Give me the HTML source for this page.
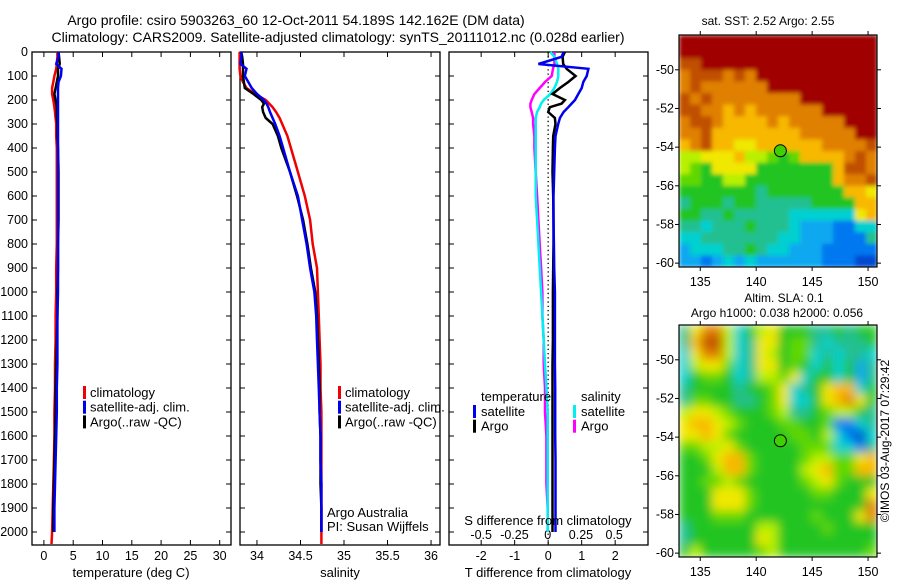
<!DOCTYPE html>
<html><head><meta charset="utf-8">
<style>
html,body{margin:0;padding:0;background:#fff;}
svg{display:block;font-family:"Liberation Sans",sans-serif;}
</style></head>
<body>
<svg id="fig" width="900" height="580" viewBox="0 0 900 580" xmlns="http://www.w3.org/2000/svg">
<defs>
<filter id="blurSla" x="0" y="0" width="1" height="1"><feGaussianBlur stdDeviation="5" edgeMode="duplicate"/></filter>
<filter id="blurSst" x="0" y="0" width="1" height="1"><feGaussianBlur stdDeviation="2" edgeMode="duplicate"/></filter>
<clipPath id="clipM1"><rect x="679" y="35" width="198" height="232"/></clipPath>
<clipPath id="clipM2"><rect x="679" y="325" width="198" height="232"/></clipPath>
</defs>
<text x="296" y="25" font-size="14" text-anchor="middle">Argo profile: csiro 5903263_60 12-Oct-2011 54.189S 142.162E (DM data)</text>
<text x="338" y="42" font-size="14" text-anchor="middle">Climatology: CARS2009. Satellite-adjusted climatology: synTS_20111012.nc (0.028d earlier)</text>
<g id="g1"></g>
<g id="g2"></g>
<g id="g3"></g>
<g id="m1"></g>
<g id="m2"></g>
<text x="768" y="25" font-size="12" text-anchor="middle">sat. SST: 2.52 Argo: 2.55</text>
<text x="784" y="302" font-size="12" text-anchor="middle">Altim. SLA: 0.1</text>
<text x="777" y="317" font-size="12" text-anchor="middle">Argo h1000: 0.038 h2000: 0.056</text>
<text x="0" y="0" font-size="12" transform="translate(889,441) rotate(-90)" text-anchor="middle">©IMOS 03-Aug-2017 07:29:42</text>
</svg>
<script>
const depths=[0,20,50,70,100,125,150,175,200,215,230,250,275,300,350,400,500,600,700,800,900,1000,1100,1200,1300,1400,1500,1600,1700,1800,1900,2000,2050];
const tempClim=[2.3,2.3,2.2,2.1,1.8,1.6,1.4,1.4,1.6,1.7,1.8,1.9,2.0,2.1,2.1,2.2,2.2,2.2,2.2,2.2,2.1,2.1,2.0,2.0,1.9,1.9,1.8,1.8,1.7,1.6,1.5,1.4,1.3];
const tempSat=[2.5,2.5,2.1,3.0,2.9,2.5,2.4,2.4,2.4,2.4,2.4,2.4,2.4,2.4,2.4,2.4,2.4,2.4,2.4,2.4,2.4,2.4,2.3,2.3,2.3,2.2,2.2,2.1,2.0,1.9,1.8,1.8,null];
const tempArgo=[2.5,2.6,2.7,2.4,2.4,2.2,2.0,1.8,2.0,2.1,2.2,2.2,2.2,2.3,2.3,2.4,2.5,2.5,2.5,2.4,2.4,2.3,2.3,2.2,2.1,2.0,2.0,1.9,1.8,1.7,1.6,1.6,null];
const salClim=[33.80,33.80,33.80,33.80,33.81,33.84,33.88,33.98,34.10,34.14,34.18,34.22,34.26,34.29,34.35,34.39,34.47,34.55,34.61,34.64,34.69,34.70,34.71,34.72,34.73,34.73,34.74,34.74,34.74,34.74,34.74,34.74,34.74];
const salSat=[33.82,33.82,33.81,33.88,33.86,33.90,33.94,34.00,34.08,34.11,34.13,34.15,34.18,34.21,34.26,34.30,34.38,34.47,34.52,34.57,34.61,34.66,34.68,34.69,34.70,34.71,34.72,34.73,34.73,34.74,34.74,34.74,null];
const salArgo=[33.82,33.83,33.84,33.84,33.84,33.85,33.86,33.96,34.05,34.08,34.06,34.07,34.10,34.18,34.24,34.28,34.38,34.46,34.53,34.58,34.62,34.67,34.69,34.70,34.71,34.72,34.72,34.73,34.73,34.73,34.74,34.74,null];
const dTsat=[0.46,0.40,-0.29,1.2,1.15,1.05,1.0,0.9,0.8,0.7,0.6,0.46,0.35,0.3,0.22,0.2,0.18,0.16,0.16,0.17,0.18,0.2,0.2,0.2,0.2,0.21,0.21,0.21,0.22,0.22,0.22,0.22,null];
const dTargo=[0.5,0.43,0.45,0.55,0.82,0.6,0.35,0.13,0.5,0.4,0.05,0.0,0.2,0.22,0.15,0.14,0.13,0.15,0.16,0.16,0.15,0.14,0.14,0.14,0.13,0.13,0.13,0.13,0.13,0.13,0.13,0.13,null];
const dSsat=[0.02,0.05,0.07,0.08,0.08,0.07,0.05,0.02,-0.03,-0.05,-0.06,-0.08,-0.09,-0.09,-0.09,-0.09,-0.09,-0.09,-0.08,-0.07,-0.06,-0.05,-0.04,-0.03,-0.02,-0.01,0,0,0,0,0,0,null];
const dSargo=[0.05,0.05,0.05,0.04,0.03,-0.02,-0.06,-0.1,-0.12,-0.13,-0.13,-0.12,-0.11,-0.11,-0.1,-0.1,-0.09,-0.08,-0.07,-0.06,-0.05,-0.04,-0.04,-0.03,-0.03,-0.02,-0.02,-0.01,-0.01,-0.01,0,0,null];
const depthTicks=[0,100,200,300,400,500,600,700,800,900,1000,1100,1200,1300,1400,1500,1600,1700,1800,1900,2000];
const tempTicks=[0,5,10,15,20,25,30];
const salTicks=[34,34.5,35,35.5,36];
const tDiffTicks=[-2,-1,0,1,2];
const sDiffTicks=[-0.5,-0.25,0,0.25,0.5];
const lonTicks=[135,140,145,150];
const latTicks=[-50,-52,-54,-56,-58,-60];
const palette=["#0048d0","#0078f0","#10a8f0","#00d0d0","#20c090","#20c420","#60d800","#b8f000","#f0e800","#f8b800","#e08000","#c05000","#a00000"];
const sstGrid=[
"cccccccccccccccccc","cccccccccccccccccc","bbcccccccccccccccc","abbbabaccccccccccc","abaaaaaacccccccccc",
"babaaaaaaaaccccccc","bbaa9a9aaaaaaccccc","abba9999a9aaaaaccc","aab99999999aaaaacc","9ab9988999999aaaab",
"778889776569999aba","765888855555559bba","665577555555559aab","555555545555555998","455545544444555599",
"554454444433333389","443444544432221133","334444444332221114","233344543322211111","221232322222211100"];
const slaGrid=[
"48aa73578555445455","49bb73488566434445","38aa73487566343443","378863488565353524","356653477683553524",
"455554556834589935","466554456833589a85","788765556744567754","899876555665561134","889865555566573103",
"667786555556663314","556899655556776689","555799655557896699","556676555556786555","555888655555665558",
"55588865555555555a","55566655555565558a","455555577555565555","455555587555555555","575555567555555556"];
const argoLon=142.162, argoLat=-54.189;

const NS="http://www.w3.org/2000/svg";
function mk(p,tag,at,name){const e=document.createElementNS(NS,tag);for(const k in at)e.setAttribute(k,at[k]);


p.appendChild(e);return e;}
const top0=52,bot=545;
const yD=d=>top0+d*0.24;
function panel(g,x0,x1,xmin,xmax,name){
  const sx=v=>x0+(v-xmin)/(xmax-xmin)*(x1-x0);
  mk(g,'rect',{x:x0,y:top0,width:x1-x0,height:bot-top0,fill:'none',stroke:'#000','stroke-width':1.3},name+'-frame');
  depthTicks.forEach(d=>{const y=yD(d);
    mk(g,'line',{x1:x0,x2:x0+5,y1:y,y2:y,stroke:'#000'},name+'-ytick');
    mk(g,'line',{x1:x1-5,x2:x1,y1:y,y2:y,stroke:'#000'},name+'-ytick');});
  return sx;
}
function line(g,sx,vals,color,name,w){
  let pts=[];depths.forEach((d,i)=>{if(vals[i]!==null)pts.push(sx(vals[i]).toFixed(1)+','+yD(d).toFixed(1));});
  mk(g,'polyline',{points:pts.join(' '),fill:'none',stroke:color,'stroke-width':w||2.5,'stroke-linejoin':'miter'},name);
}
function xticks(g,sx,ticks,name,ly){
  ticks.forEach(t=>{const x=sx(t);
    mk(g,'line',{x1:x,x2:x,y1:bot,y2:bot-5,stroke:'#000'},name+'-tick');
    mk(g,'line',{x1:x,x2:x,y1:top0,y2:top0+5,stroke:'#000'},name+'-tick');
    const t1=mk(g,'text',{x:x,y:ly,'font-size':12.5,'text-anchor':'middle'},name+'-label');t1.textContent=String(t);});
}
function legend(g,x,items){
  items.forEach((it,i)=>{const y=397+i*14.7;
    if(it[1])mk(g,'rect',{x:x,y:y-11,width:3,height:13,fill:it[1]},'legend-swatch-'+it[2]);
    const t=mk(g,'text',{x:x+7,y:y,'font-size':13},'legend-entry-'+it[2]);t.textContent=it[0];});
}
// Panel 1
const g1=document.getElementById('g1');
const sxT=panel(g1,32,231,-2.03,31.93,'temperature-panel');
depthTicks.forEach(d=>{const t=mk(g1,'text',{x:28,y:yD(d)+4,'font-size':12.5,'text-anchor':'end'},'depth-tick-label');t.textContent=String(d);});
xticks(g1,sxT,tempTicks,'temperature-axis',560);
line(g1,sxT,tempClim,'#f00000','temp-climatology-line');
line(g1,sxT,tempArgo,'#000','temp-argo-line');
line(g1,sxT,tempSat,'#0000f0','temp-satellite-line');
legend(g1,83,[['climatology','#f00000','clim'],['satellite-adj. clim.','#0000f0','sat'],['Argo(..raw -QC)','#000','argo']]);
{const t=mk(g1,'text',{x:131,y:577,'font-size':13,'text-anchor':'middle'},'temperature-axis-title');t.textContent='temperature (deg C)';}
// Panel 2
const g2=document.getElementById('g2');
const sxS=panel(g2,240,440,33.805,36.103,'salinity-panel');
xticks(g2,sxS,salTicks,'salinity-axis',560);
line(g2,sxS,salClim,'#f00000','sal-climatology-line');
line(g2,sxS,salArgo,'#000','sal-argo-line');
line(g2,sxS,salSat,'#0000f0','sal-satellite-line');
legend(g2,338,[['climatology','#f00000','sal-clim'],['satellite-adj. clim.','#0000f0','sal-sat'],['Argo(..raw -QC)','#000','sal-argo']]);
{let t=mk(g2,'text',{x:327,y:517,'font-size':13},'pi-credit-1');t.textContent='Argo Australia';
t=mk(g2,'text',{x:327,y:531,'font-size':13},'pi-credit-2');t.textContent='PI: Susan Wijffels';
t=mk(g2,'text',{x:340,y:577,'font-size':13,'text-anchor':'middle'},'salinity-axis-title');t.textContent='salinity';}
// Panel 3
const g3=document.getElementById('g3');
const sxD=panel(g3,449,648,-2.96,2.98,'difference-panel');
const sxSD=v=>547.7+v*133;
mk(g3,'line',{x1:sxD(0),x2:sxD(0),y1:top0,y2:bot,stroke:'#000','stroke-dasharray':'1.3,3','stroke-width':1.3},'zero-line');
xticks(g3,sxD,tDiffTicks,'t-diff-axis',560);
sDiffTicks.forEach(t=>{const e=mk(g3,'text',{x:sxSD(t),y:539,'font-size':12.5,'text-anchor':'middle'},'s-diff-tick-label');e.textContent=String(t);});
line(g3,sxSD,dSargo,'#ff00ff','s-diff-argo-line');
line(g3,sxSD,dSsat,'#00f0f0','s-diff-sat-line');
line(g3,sxD,dTargo,'#000','t-diff-argo-line');
line(g3,sxD,dTsat,'#0000f0','t-diff-sat-line');
{const w=g3;let t=mk(w,'text',{x:481,y:401,'font-size':13},'legend-temperature-heading');t.textContent='temperature';
t=mk(w,'text',{x:581,y:401,'font-size':13},'legend-salinity-heading');t.textContent='salinity';}
(function(){const items=[[473,'satellite','#0000f0','tsat'],[473,'Argo','#000','targo'],[573,'satellite','#00f0f0','ssat'],[573,'Argo','#ff00ff','sargo']];
items.forEach((it,i)=>{const y=416+(i%2)*14.7;
mk(g3,'rect',{x:it[0],y:y-11,width:3,height:13,fill:it[2]},'legend-swatch-'+it[3]);
const t=mk(g3,'text',{x:it[0]+8,y:y,'font-size':13},'legend-entry-'+it[3]);t.textContent=it[1];});})();
{let t=mk(g3,'text',{x:548,y:525,'font-size':13,'text-anchor':'middle'},'s-diff-axis-title');t.textContent='S difference from climatology';
t=mk(g3,'text',{x:548,y:577,'font-size':13,'text-anchor':'middle'},'t-diff-axis-title');t.textContent='T difference from climatology';}
// Maps
function map(g,grid,top,name,filt,clip){
  const x0=679,x1=877,y1=top+232,lon0=133.1,lon1=150.8,lat0=-48.2,lat1=-60.2;
  const sx=v=>x0+(v-lon0)/(lon1-lon0)*(x1-x0), sy=v=>top+(v-lat0)/(lat1-lat0)*(y1-top);
  const rows=grid.length,cols=grid[0].length,cw=(x1-x0)/cols,ch=(y1-top)/rows;
  const cg=mk(g,'g',{'clip-path':'url(#'+clip+')'},name+'-field-clip');
  const fg=mk(cg,'g',{filter:'url(#'+filt+')'},name+'-field');
  grid.forEach((r,i)=>{for(let j=0;j<cols;j++){const k=parseInt(r[j],16);
    mk(fg,'rect',{x:(x0+j*cw).toFixed(2),y:(top+i*ch).toFixed(2),width:(cw+0.6).toFixed(2),height:(ch+0.6).toFixed(2),fill:palette[k]},name+'-cell');}});
  mk(g,'rect',{x:x0,y:top,width:x1-x0,height:y1-top,fill:'none',stroke:'#000','stroke-width':1.2},name+'-frame');
  lonTicks.forEach(v=>{const x=sx(v);
    mk(g,'line',{x1:x,x2:x,y1:top-4,y2:top,stroke:'#000'},name+'-xtick');
    mk(g,'line',{x1:x,x2:x,y1:y1,y2:y1+4,stroke:'#000'},name+'-xtick');
    const t=mk(g,'text',{x:x,y:y1+19,'font-size':12.5,'text-anchor':'middle'},name+'-lon-label');t.textContent=String(v);});
  latTicks.forEach(v=>{const y=sy(v);
    mk(g,'line',{x1:x0-4,x2:x0,y1:y,y2:y,stroke:'#000'},name+'-ytick');
    mk(g,'line',{x1:x1,x2:x1+4,y1:y,y2:y,stroke:'#000'},name+'-ytick');
    const t=mk(g,'text',{x:x0-5,y:y+4,'font-size':12.5,'text-anchor':'end'},name+'-lat-label');t.textContent=String(v);});
  mk(g,'circle',{cx:sx(argoLon),cy:sy(argoLat),r:6,fill:'#40d000',stroke:'#000','stroke-width':1},name+'-argo-marker');
}
map(document.getElementById('m1'),sstGrid,35,'sst-map','blurSst','clipM1');
map(document.getElementById('m2'),slaGrid,325,'sla-map','blurSla','clipM2');
</script>
</body></html>
